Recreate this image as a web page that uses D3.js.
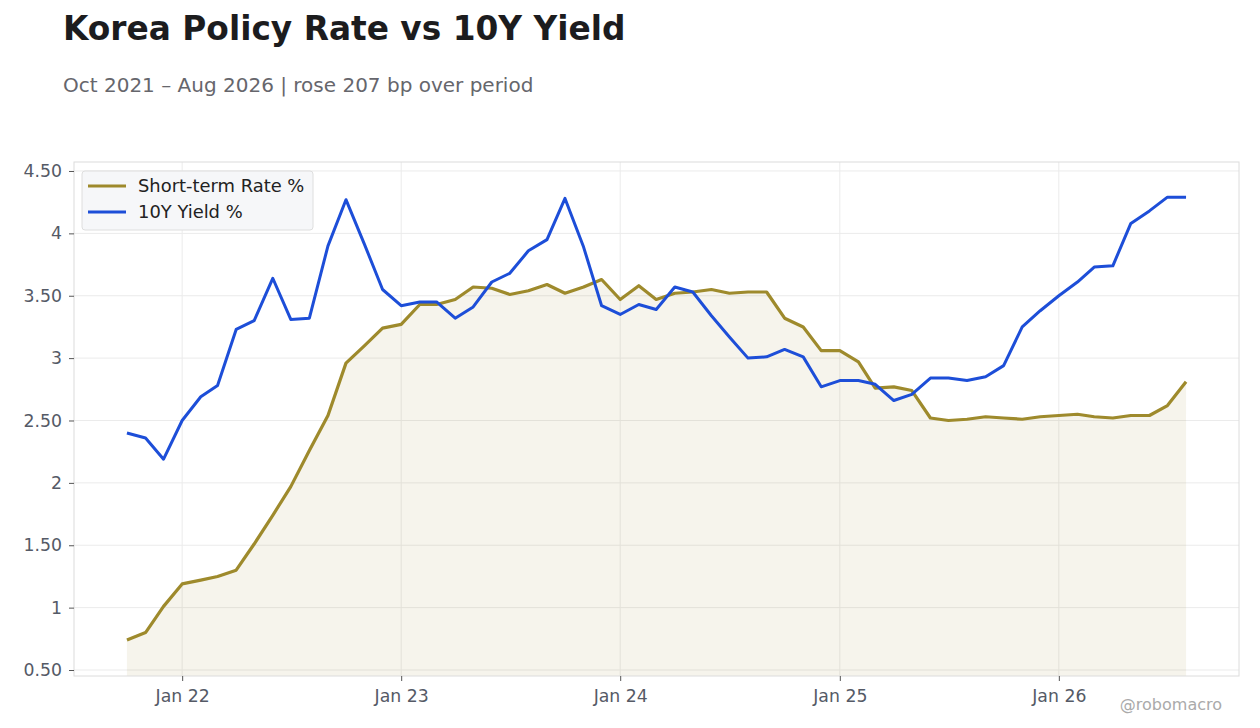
<!DOCTYPE html>
<html><head><meta charset="utf-8">
<script src="https://cdn.jsdelivr.net/npm/d3@7"></script>
<style>
body{margin:0;background:#fff;font-family:"DejaVu Sans",sans-serif;}
</style></head>
<body><svg id="c" width="1260" height="728"></svg>
<script>
const startMonth = "2021-10";
const shortRate = [0.74,0.80,1.01,1.19,1.22,1.25,1.30,1.51,1.74,1.97,2.26,2.54,2.96,3.10,3.24,3.27,3.43,3.43,3.47,3.57,3.56,3.51,3.54,3.59,3.52,3.57,3.63,3.47,3.58,3.47,3.52,3.53,3.55,3.52,3.53,3.53,3.32,3.25,3.06,3.06,2.97,2.76,2.77,2.74,2.52,2.50,2.51,2.53,2.52,2.51,2.53,2.54,2.55,2.53,2.52,2.54,2.54,2.62,2.81];
const yield10 = [2.40,2.36,2.19,2.50,2.69,2.78,3.23,3.30,3.64,3.31,3.32,3.90,4.27,3.91,3.55,3.42,3.45,3.45,3.32,3.41,3.61,3.68,3.86,3.95,4.28,3.89,3.42,3.35,3.43,3.39,3.57,3.53,3.34,3.17,3.00,3.01,3.07,3.01,2.77,2.82,2.82,2.79,2.66,2.71,2.84,2.84,2.82,2.85,2.94,3.25,3.38,3.50,3.61,3.73,3.74,4.08,4.18,4.29,4.29];
const yTicks = [0.5,1,1.5,2,2.5,3,3.5,4,4.5];
const xTickLabels = ["Jan 22","Jan 23","Jan 24","Jan 25","Jan 26"];
const seriesNames = ["Short-term Rate %","10Y Yield %"];
const titleText = "Korea Policy Rate vs 10Y Yield";
const subtitleText = "Oct 2021 – Aug 2026 | rose 207 bp over period";
const watermark = "@robomacro";

const colGold = "#9e8a2c", colBlue = "#1d4ed8";
const [sy, sm] = startMonth.split("-").map(Number);
const dates = shortRate.map((_, i) => new Date(sy, sm - 1 + i, 1));
const xTickDates = xTickLabels.map(s => new Date(2000 + +s.slice(4), 0, 1));

const svg = d3.select("#c");
const L = 74, R = 1239, T = 162, B = 676;
const d0 = dates[0], d1 = dates[dates.length - 1];
const span = d1 - d0, pad = span * 0.05;
const x = d3.scaleTime().domain([new Date(+d0 - pad), new Date(+d1 + pad)]).range([L, R]);
const y = d3.scaleLinear().domain([0.452, 4.572]).range([B, T]);

svg.append("text").attr("x", 63).attr("y", 40).attr("font-size", 32.8).attr("font-weight", "bold")
  .attr("fill", "#1c1c1e").text(titleText);
svg.append("text").attr("x", 63).attr("y", 92).attr("font-size", 20).attr("fill", "#66666c").text(subtitleText);

// grid
const g = svg.append("g");
g.selectAll(".hg").data(yTicks).enter().append("line")
  .attr("x1", L).attr("x2", R).attr("y1", d => y(d)).attr("y2", d => y(d))
  .attr("stroke", "#ebebeb").attr("stroke-width", 1);
g.selectAll(".vg").data(xTickDates).enter().append("line")
  .attr("x1", d => x(d)).attr("x2", d => x(d)).attr("y1", T).attr("y2", B)
  .attr("stroke", "#ebebeb").attr("stroke-width", 1);

// area
const area = d3.area().x((d, i) => x(dates[i])).y0(B).y1(d => y(d));
svg.append("path").datum(shortRate).attr("d", area).attr("fill", "#9e8a2c").attr("fill-opacity", 0.09);

const line = d3.line().x((d, i) => x(dates[i])).y(d => y(d));
svg.append("path").datum(shortRate).attr("d", line).attr("fill", "none").attr("stroke", colGold)
  .attr("stroke-width", 3.2).attr("stroke-linejoin", "round");
svg.append("path").datum(yield10).attr("d", line).attr("fill", "none").attr("stroke", colBlue)
  .attr("stroke-width", 3).attr("stroke-linejoin", "round");

// frame
svg.append("rect").attr("x", L).attr("y", T).attr("width", R - L).attr("height", B - T)
  .attr("fill", "none").attr("stroke", "#dcdcdc").attr("stroke-width", 1);

// axes
const fmt = d => (Number.isInteger(d) ? String(d) : d.toFixed(2));
const yAxis = d3.axisLeft(y).tickValues(yTicks).tickFormat(fmt).tickSize(5).tickPadding(7);
const ya = svg.append("g").attr("transform", `translate(${L},0)`).call(yAxis);
const xAxis = d3.axisBottom(x).tickValues(xTickDates).tickFormat((d, i) => xTickLabels[i]).tickSize(5).tickPadding(9);
const xa = svg.append("g").attr("transform", `translate(0,${B})`).call(xAxis);
[ya, xa].forEach(a => {
  a.select(".domain").remove();
  a.selectAll(".tick line").attr("stroke", "#555");
  a.selectAll("text").attr("fill", "#555a66").attr("font-size", 17.3).attr("font-family", "DejaVu Sans");
});

// legend
const lg = svg.append("g");
lg.append("rect").attr("x", 82).attr("y", 171).attr("width", 231).attr("height", 59).attr("rx", 3)
  .attr("fill", "#f6f7f9").attr("stroke", "#dedede");
[[colGold, 186], [colBlue, 212]].forEach(([c, yy], i) => {
  lg.append("line").attr("x1", 88).attr("x2", 126).attr("y1", yy).attr("y2", yy).attr("stroke", c).attr("stroke-width", 3);
  lg.append("text").attr("x", 138).attr("y", yy + 6).attr("font-size", 17.9).attr("fill", "#222").text(seriesNames[i]);
});

svg.append("text").attr("x", 1222).attr("y", 710).attr("text-anchor", "end").attr("font-size", 16)
  .attr("fill", "#aaaaaa").text(watermark);
</script></body></html>
